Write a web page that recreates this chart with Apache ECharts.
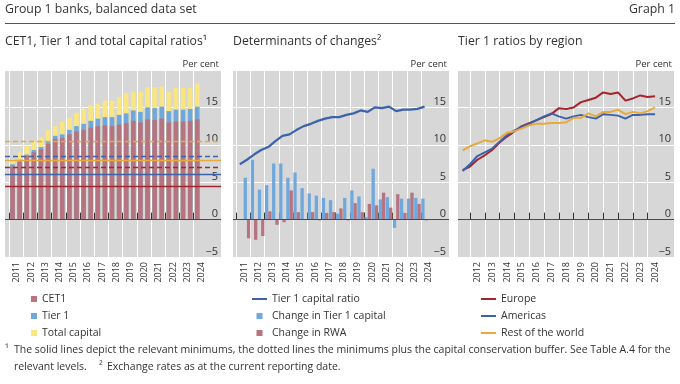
<!DOCTYPE html>
<html><head><meta charset="utf-8">
<script src="https://cdn.jsdelivr.net/npm/echarts@6/dist/echarts.min.js"></script>
<style>html,body{margin:0;padding:0;background:#fff}#c{width:680px;height:384px}</style>
</head><body><div id="c"></div>
<script>
// ---- data ----
const periods = ["2011-06","2011-12","2012-06","2012-12","2013-06","2013-12","2014-06","2014-12","2015-06","2015-12","2016-06","2016-12","2017-06","2017-12","2018-06","2018-12","2019-06","2019-12","2020-06","2020-12","2021-06","2021-12","2022-06","2022-12","2023-06","2023-12","2024-06"];
const yearsLeft = [2011,2012,2013,2014,2015,2016,2017,2018,2019,2020,2021,2022,2023,2024];
const yearsRight = [2012,2013,2014,2015,2016,2017,2018,2019,2020,2021,2022,2023,2024];
const yTicks = [-5,0,5,10,15,20];

const cet1   = [7.1,7.7,8.5,9.0,9.4,10.1,10.8,10.9,11.4,11.8,12.0,12.3,12.5,12.6,12.5,12.7,12.9,13.2,13.0,13.4,13.3,13.5,13.0,13.1,13.1,13.2,13.4];
const tier1  = [7.4,8.0,8.7,9.3,9.7,10.5,11.2,11.4,12.0,12.5,12.8,13.2,13.5,13.7,13.7,14.0,14.2,14.6,14.4,15.0,14.9,15.1,14.5,14.7,14.7,14.8,15.1];
const totalCap = [8.1,9.0,9.9,10.5,11.0,12.0,12.5,13.1,13.6,14.3,14.8,15.3,15.5,15.9,15.9,16.4,16.9,17.1,17.1,17.7,17.7,17.8,17.1,17.6,17.6,17.6,18.2];

const minimums = [4.5, 6.0, 8.0];        // CET1, Tier 1, Total capital
const minPlusBuffer = [7.0, 8.5, 10.5];  // plus capital conservation buffer

const chgTier1Capital = [5.6,8.0,4.0,4.6,7.5,7.5,5.6,6.3,4.2,3.5,3.2,2.9,2.6,0.8,2.9,3.9,3.1,0.35,6.8,2.7,3.0,-1.1,2.8,2.8,2.9,2.8];
const chgRWA = [-2.5,-2.7,-2.2,1.1,-0.7,-0.35,3.9,1.0,0.0,1.0,-0.1,0.9,1.0,1.5,-0.1,2.2,1.0,2.1,1.9,3.6,1.6,3.4,0.9,3.6,2.1,-0.1];

const europe   = [6.6,7.1,8.0,8.6,9.3,10.3,11.1,11.8,12.5,12.9,13.3,13.7,14.1,14.9,14.8,15.0,15.7,16.0,16.3,17.0,16.8,17.0,15.9,16.2,16.6,16.4,16.5];
const americas = [6.5,7.4,8.5,9.0,9.5,10.4,11.3,11.9,12.4,12.8,13.3,13.8,14.2,13.8,13.5,13.8,14.0,13.7,13.5,14.1,14.0,13.9,13.5,14.0,14.0,14.1,14.1];
const restOfWorld = [9.25,9.8,10.2,10.6,10.4,10.9,11.6,11.8,12.2,12.6,12.8,12.8,12.9,12.9,13.0,13.6,13.6,14.2,13.8,14.4,14.4,14.7,14.1,14.4,14.2,14.5,15.0];

// ---- styles ----
const FF = '"Open Sans", sans-serif';
const TXT = '#333333';
const C = {cet1:'#b67380', t1:'#6fa8dc', tot:'#f9e582', red:'#a4262c', blue:'#3b63ac', gold:'#e8aa3c', bg:'#d7d7d7', zero:'#4a4a4a'};

// positions of periods on the value axes
const half = p => (p.slice(5) === '06' ? 0 : 1);
const barX  = periods.map(p => +p.slice(0,4) + 0.25 + 0.5*half(p));
const lineX = periods.map(p => +p.slice(0,4) + 0.5 + 0.5*half(p));

const grids = [
  {left:5,   top:70, width:216, height:187},
  {left:233, top:70, width:216, height:187},
  {left:458, top:70, width:216, height:187}
].map(g => Object.assign(g, {show:true, backgroundColor:C.bg, borderWidth:0, containLabel:false}));

function xAx(gi, min, max, years, labelShift){
  return {type:'value', gridIndex:gi, min:min, max:max,
    axisLine:{show:false},
    axisTick:{show:true, inside:true, length:7, customValues: years.slice(), lineStyle:{color:TXT, width:1}},
    splitLine:{show:true, lineStyle:{color:'#ffffff', width:1}},
    axisLabel:{customValues: years.map(y => y + labelShift), rotate:90, margin:5, fontSize:9, color:TXT, fontFamily:FF,
      formatter: v => String(Math.floor(v))}
  };
}
function yAx(gi){
  return {type:'value', gridIndex:gi, position:'right', min:yTicks[0], max:yTicks[yTicks.length-1], interval:5,
    name:'Per cent', nameLocation:'end', nameGap:1,
    nameTextStyle:{align:'right', verticalAlign:'bottom', fontSize:9.5, color:TXT, fontFamily:FF, padding:[0,2,0,0]},
    axisLine:{show:false}, axisTick:{show:false},
    axisLabel:{inside:true, margin:3, verticalAlign:'bottom', fontSize:11, color:TXT, fontFamily:FF,
      formatter: v => v === 20 ? '' : (v < 0 ? '\u2212' + (-v) : String(v))},
    splitLine:{show:true, lineStyle:{color:'#ffffff', width:1}}
  };
}
function zeroSeries(gi){
  return {type:'line', xAxisIndex:gi, yAxisIndex:gi, data:[], z:6, silent:true,
    markLine:{symbol:'none', silent:true, label:{show:false}, animation:false,
      data:[{yAxis:0, lineStyle:{color:C.zero, type:'solid', width:1}}]}};
}
const refColors = [C.red, C.blue, C.gold];
const refLineData = [];
minimums.forEach((v,i) => refLineData.push({yAxis:v, lineStyle:{color:refColors[i], type:'solid', width:1.4}}));
minPlusBuffer.forEach((v,i) => refLineData.push({yAxis:v, lineStyle:{color:refColors[i], type:[5,3], width:1.4}}));

const series = [
  // overlapping bars: total capital behind, Tier 1 in front of it, CET1 in front
  {name:'Total capital', type:'bar', xAxisIndex:0, yAxisIndex:0, barWidth:4.6, barGap:'-100%', color:C.tot, itemStyle:{color:C.tot},
    data: barX.map((x,i) => [x, totalCap[i]])},
  {name:'Tier 1', type:'bar', xAxisIndex:0, yAxisIndex:0, barWidth:4.6, barGap:'-100%', color:C.t1, itemStyle:{color:C.t1},
    data: barX.map((x,i) => [x, tier1[i]])},
  {name:'CET1', type:'bar', xAxisIndex:0, yAxisIndex:0, barWidth:4.6, barGap:'-100%', color:C.cet1, itemStyle:{color:C.cet1},
    data: barX.map((x,i) => [x, cet1[i]])},
  {type:'line', xAxisIndex:0, yAxisIndex:0, data:[], z:5, silent:true,
    markLine:{symbol:'none', silent:true, label:{show:false}, animation:false, data: refLineData}},
  zeroSeries(0),

  {name:'Change in Tier 1 capital', type:'bar', xAxisIndex:1, yAxisIndex:1, barWidth:3.3, barGap:'0%', color:C.t1, itemStyle:{color:C.t1},
    data: chgTier1Capital.map((v,i) => [barX[i+1], v])},
  {name:'Change in RWA', type:'bar', xAxisIndex:1, yAxisIndex:1, barWidth:3.3, barGap:'0%', color:C.cet1, itemStyle:{color:C.cet1},
    data: chgRWA.map((v,i) => [barX[i+1], v])},
  zeroSeries(1),
  {name:'Tier 1 capital ratio', type:'line', xAxisIndex:1, yAxisIndex:1, symbol:'none', z:7, color:C.blue,
    lineStyle:{color:C.blue, width:2.2}, data: tier1.map((v,i) => [barX[i], v])},

  zeroSeries(2),
  {name:'Europe', type:'line', xAxisIndex:2, yAxisIndex:2, symbol:'none', z:7, color:C.red,
    lineStyle:{color:C.red, width:2}, data: europe.map((v,i) => [lineX[i], v])},
  {name:'Americas', type:'line', xAxisIndex:2, yAxisIndex:2, symbol:'none', z:7, color:C.blue,
    lineStyle:{color:C.blue, width:2}, data: americas.map((v,i) => [lineX[i], v])},
  {name:'Rest of the world', type:'line', xAxisIndex:2, yAxisIndex:2, symbol:'none', z:7, color:C.gold,
    lineStyle:{color:C.gold, width:2}, data: restOfWorld.map((v,i) => [lineX[i], v])}
];

const SQ = 'path://M0,0H6V6H0Z';
const LN = 'path://M0,0H15V2H0Z';
function legend(left, items, w){
  return {left:left, top:287, orient:'vertical', itemWidth:w, itemHeight:6, itemGap:3, selectedMode:false,
    textStyle:{fontSize:10.5, color:TXT, fontFamily:FF, lineHeight:14}, data: items};
}

function txt(x, y, s, size, align){
  return {type:'text', x:x, y:y, silent:true,
    style:{text:s, font: size + 'px ' + FF, fill:TXT, align: align || 'left', verticalAlign:'middle'}};
}

const option = {
  animation:false,
  grid: grids,
  xAxis: [xAx(0, 2010.72, 2025.92, yearsLeft, 0.55), xAx(1, 2010.77, 2025.97, yearsLeft, 0.55), xAx(2, 2011.19, 2025.78, yearsRight, 0.5)],
  yAxis: [yAx(0), yAx(1), yAx(2)],
  legend: [
    legend(26, [{name:'CET1', icon:SQ},{name:'Tier 1', icon:SQ},{name:'Total capital', icon:SQ}], 6),
    legend(247, [{name:'Tier 1 capital ratio', icon:LN},{name:'Change in Tier 1 capital', icon:SQ},{name:'Change in RWA', icon:SQ}], 15),
    legend(476, [{name:'Europe', icon:LN},{name:'Americas', icon:LN},{name:'Rest of the world', icon:LN}], 15)
  ],
  series: series,
  graphic: [
    txt(5, 9, 'Group 1 banks, balanced data set', 12.3),
    txt(675, 9, 'Graph 1', 12.3, 'right'),
    {type:'line', silent:true, shape:{x1:5, y1:23.5, x2:675, y2:23.5}, style:{stroke:'#555', lineWidth:1}},
    txt(5, 41, 'CET1, Tier 1 and total capital ratios\u00B9', 12.3),
    txt(233, 41, 'Determinants of changes\u00B2', 12.3),
    txt(458, 41, 'Tier 1 ratios by region', 12.3),
    txt(5, 349, '\u00B9', 10.5),
    txt(14, 350, 'The solid lines depict the relevant minimums, the dotted lines the minimums plus the capital conservation buffer. See Table A.4 for the', 10.5),
    txt(14, 367, 'relevant levels.', 10.5),
    txt(99, 366, '\u00B2', 10.5),
    txt(107, 367, 'Exchange rates as at the current reporting date.', 10.5)
  ]
};
const chart = echarts.init(document.getElementById('c'), null, {renderer:'canvas'});
chart.setOption(option);
</script>
</body></html>
